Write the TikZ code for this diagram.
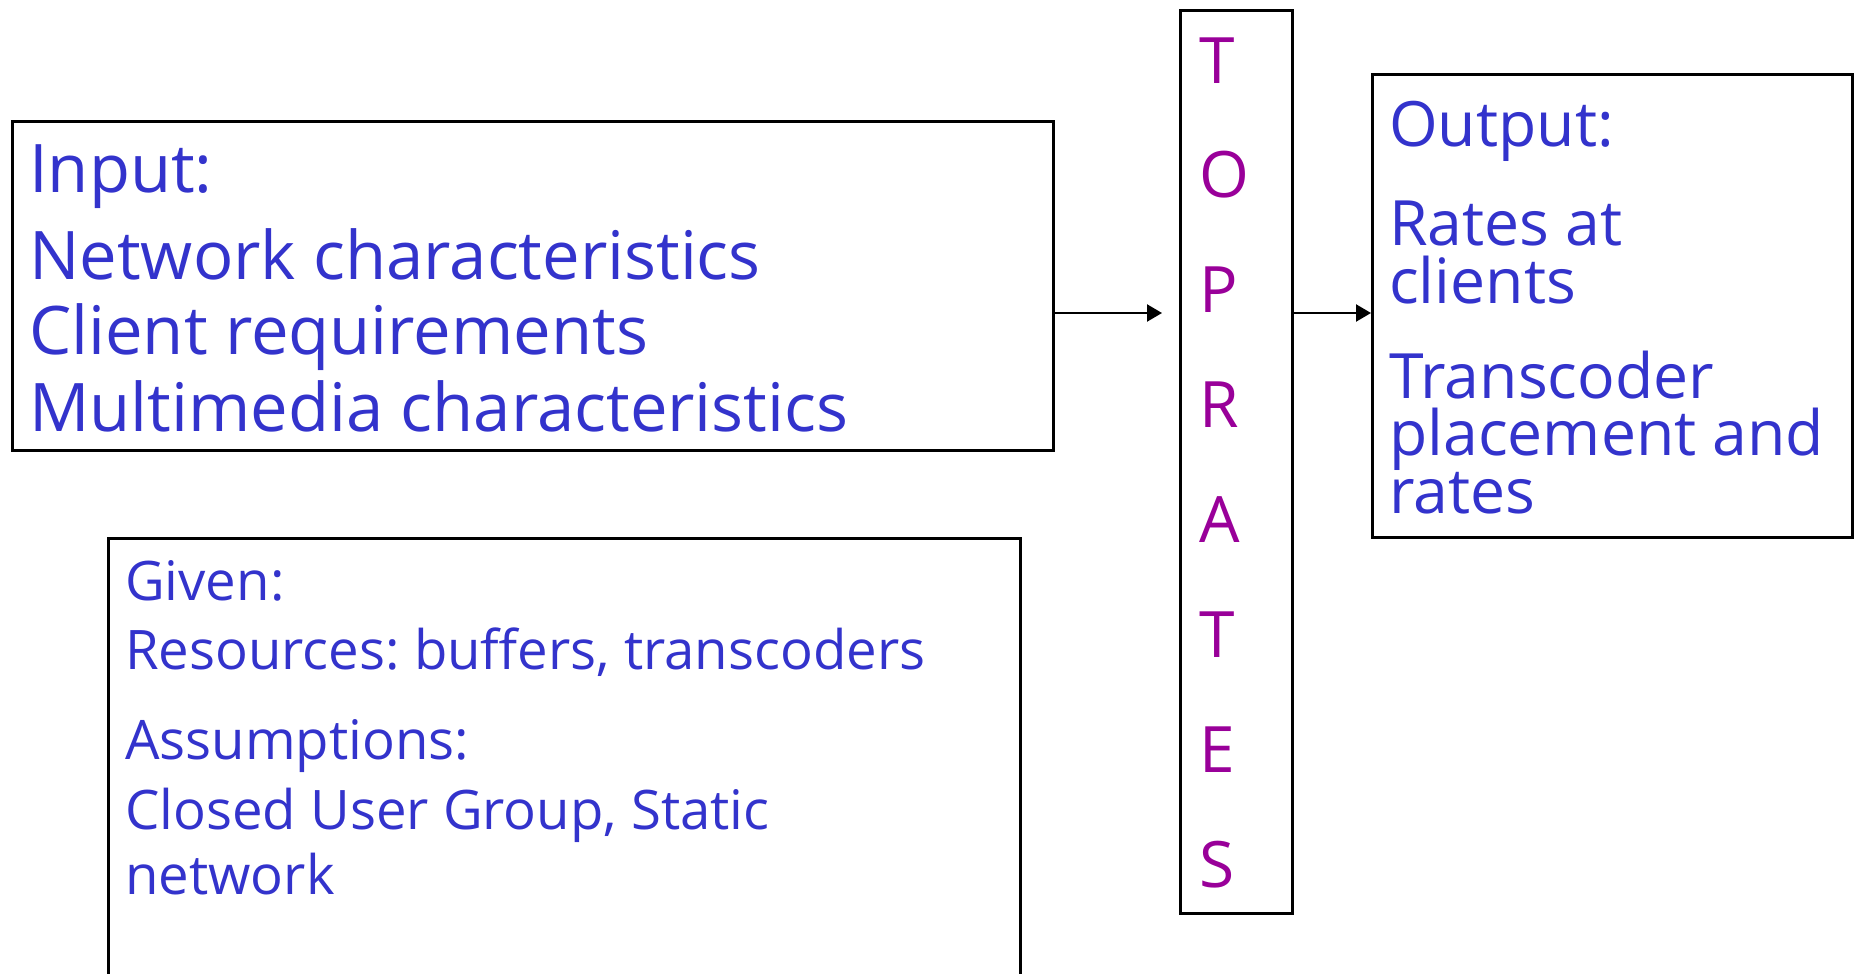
\documentclass[tikz,border=0pt]{standalone}
\usepackage{fontspec}
\setmainfont{Open Sans}
\usetikzlibrary{arrows.meta}
\definecolor{txtblue}{HTML}{3333CC}
\definecolor{txtpurple}{HTML}{990099}
\frenchspacing
\begin{document}
\begin{tikzpicture}[x=1pt,y=-1pt,
  box/.style={draw=black,line width=3pt,inner sep=0pt,anchor=north west},
  bigtext/.style={anchor=base west,inner sep=0pt,text=txtblue,font=\fontsize{67}{67}\selectfont},
  outtext/.style={anchor=base west,inner sep=0pt,text=txtblue,align=left,font=\fontsize{62.5}{57.5}\selectfont},
  smalltext/.style={anchor=base west,inner sep=0pt,text=txtblue,font=\fontsize{54.5}{54.5}\selectfont},
  letter/.style={anchor=base west,inner sep=0pt,text=txtpurple,font=\fontsize{64}{64}\selectfont},
  conn/.style={line width=2.2pt,-{Triangle[length=15pt,width=17pt]}}]
\useasboundingbox (0,0) rectangle (1860,974);
% boxes
\node[box,minimum width=1040.5pt,minimum height=328.5pt] (inbox) at (11,120) {};
\node[box,minimum width=912.3pt,minimum height=437pt] (givenbox) at (106.7,536.7) {};
\node[box,minimum width=112pt,minimum height=903pt] (toprates) at (1179,9) {};
\node[box,minimum width=480pt,minimum height=463.3pt] (outbox) at (1371,72.7) {};
% input text
\node[bigtext] (inhead) at (29,192) {Input:};
\node[bigtext] (in1) at (29,279) {Network characteristics};
\node[bigtext] (in2) at (29,354) {Client requirements};
\node[bigtext] (in3) at (29,431) {Multimedia characteristics};
% given text
\node[smalltext] (ghead) at (125,600) {Given:};
\node[smalltext] (g1) at (125,669) {Resources: buffers, transcoders};
\node[smalltext] (ahead) at (125,759) {Assumptions:};
\node[smalltext,align=left,font=\fontsize{54.5}{65}\selectfont] (a1) at (125,894) {Closed User Group, Static\\network};
% output text
\node[outtext] (outhead) at (1389,146) {Output:};
\node[outtext] (o1) at (1389,303) {Rates at\\clients};
\node[outtext] (o3) at (1389,513) {Transcoder\\placement and\\rates};
% TOPRATES letters
\node[letter] (l1) at (1199,83) {T};
\node[letter] (l2) at (1199,197.9) {O};
\node[letter] (l3) at (1199,312.7) {P};
\node[letter] (l4) at (1199,427.6) {R};
\node[letter] (l5) at (1199,542.4) {A};
\node[letter] (l6) at (1199,657.3) {T};
\node[letter] (l7) at (1199,772.1) {E};
\node[letter] (l8) at (1199,887) {S};
% connectors
\coordinate (a1end) at (1162,313);
\draw[conn] (inbox.east |- a1end) -- (a1end);
\draw[conn] (toprates.east |- a1end) -- (outbox.west |- a1end);
\end{tikzpicture}
\end{document}
